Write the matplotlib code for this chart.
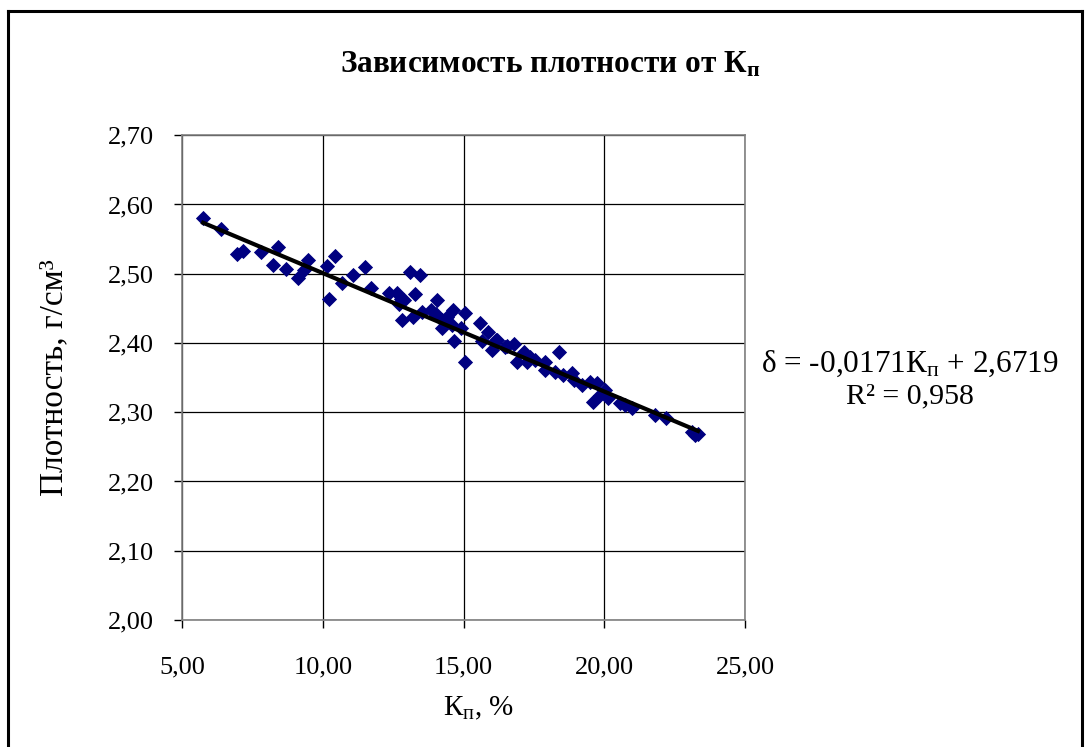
import numpy as np
import matplotlib
matplotlib.use('Agg')
import matplotlib.pyplot as plt
from matplotlib.ticker import FuncFormatter, MultipleLocator
from matplotlib.lines import Line2D

plt.rcParams['font.family'] = ['Liberation Serif', 'DejaVu Serif']
plt.rcParams['mathtext.fontset'] = 'custom'
plt.rcParams['mathtext.rm'] = 'Liberation Serif'
plt.rcParams['mathtext.it'] = 'Liberation Serif:italic'
plt.rcParams['mathtext.bf'] = 'Liberation Serif:bold'

# porosity coefficient, % and density, g/cm3
kp = [5.75, 6.40, 6.94, 7.15, 7.80, 8.23, 8.41, 8.70, 9.12, 9.33,
      9.49, 10.15, 10.21, 10.44, 10.67, 11.06, 11.50, 11.71, 12.34, 12.62,
      12.71, 12.77, 12.80, 12.89, 13.09, 13.19, 13.27, 13.44, 13.54, 13.83,
      14.01, 14.07, 14.25, 14.25, 14.42, 14.60, 14.64, 14.66, 14.90, 15.04,
      15.05, 15.60, 15.66, 15.87, 16.02, 16.14, 16.19, 16.49, 16.55, 16.78,
      16.90, 17.14, 17.25, 17.37, 17.55, 17.88, 17.90, 18.26, 18.38, 18.55,
      18.85, 18.91, 19.20, 19.50, 19.61, 19.73, 19.85, 20.03, 20.15, 20.56,
      20.74, 20.97, 21.79, 22.21, 23.10, 23.21, 23.33]
density = [2.580, 2.565, 2.528, 2.533, 2.532, 2.512, 2.538, 2.507, 2.494, 2.505,
           2.520, 2.511, 2.463, 2.525, 2.486, 2.498, 2.510, 2.480, 2.472, 2.472,
           2.457, 2.464, 2.433, 2.462, 2.502, 2.438, 2.470, 2.498, 2.445, 2.447,
           2.442, 2.462, 2.433, 2.421, 2.438, 2.426, 2.447, 2.403, 2.421, 2.443,
           2.372, 2.429, 2.403, 2.416, 2.390, 2.405, 2.404, 2.394, 2.395, 2.398,
           2.373, 2.387, 2.373, 2.380, 2.375, 2.373, 2.361, 2.358, 2.387, 2.354,
           2.356, 2.346, 2.339, 2.344, 2.315, 2.342, 2.325, 2.332, 2.320, 2.314,
           2.310, 2.306, 2.296, 2.291, 2.272, 2.267, 2.268]

slope = -0.0171
intercept = 2.6719

fig = plt.figure(figsize=(10.9, 7.47), dpi=100)
ax = fig.add_axes([0.167, 0.170, 0.5165, 0.649])

ax.scatter(kp, density, marker='D', s=60, color='#000080', zorder=3, linewidths=0)
xs = np.array([min(kp), max(kp)])
ax.plot(xs, slope * xs + intercept, color='black', lw=3.0, zorder=4)

ax.set_xlim(5, 25)
ax.set_ylim(2.0, 2.7)
ax.xaxis.set_major_locator(MultipleLocator(5))
ax.yaxis.set_major_locator(MultipleLocator(0.1))
ax.xaxis.set_major_formatter(FuncFormatter(lambda v, p: f'{v:.2f}'.replace('.', ',')))
ax.yaxis.set_major_formatter(FuncFormatter(lambda v, p: f'{v:.2f}'.replace('.', ',')))
ax.grid(True, color='black', lw=0.9)
ax.set_axisbelow(True)
for s in ax.spines.values():
    s.set_color('#808080')
    s.set_linewidth(1.2)
ax.tick_params(axis='both', direction='out', length=6, width=1, color='black',
               labelsize=19)
ax.tick_params(axis='y', pad=14)
ax.tick_params(axis='x', pad=20)

ax.set_xlabel('К$_\\mathrm{п}$, %', fontsize=21, labelpad=14)
ax.xaxis.set_label_coords(0.527, -0.155)
ax.set_ylabel('Плотность, г/см³', fontsize=24, labelpad=28)

fig.text(0.505, 0.913, 'Зависимость плотности от К$_\\mathbf{п}$', ha='center', va='center',
         fontsize=22.5, fontweight='bold')
fig.text(0.835, 0.513, 'δ = -0,0171К$_\\mathrm{п}$ + 2,6719', ha='center', va='center', fontsize=22.5)
fig.text(0.835, 0.470, 'R² = 0,958', ha='center', va='center', fontsize=21.5)

# outer chart frame (bottom edge is cut off in the original)
frame_kw = dict(color='black', lw=2.2, transform=fig.transFigure, clip_on=False)
fig.add_artist(Line2D([0.0076, 0.0076], [0.0, 0.985], **frame_kw))
fig.add_artist(Line2D([0.0076, 0.9925], [0.985, 0.985], **frame_kw))
fig.add_artist(Line2D([0.9925, 0.9925], [0.0, 0.985], **frame_kw))

fig.savefig('out.png', dpi=100)
